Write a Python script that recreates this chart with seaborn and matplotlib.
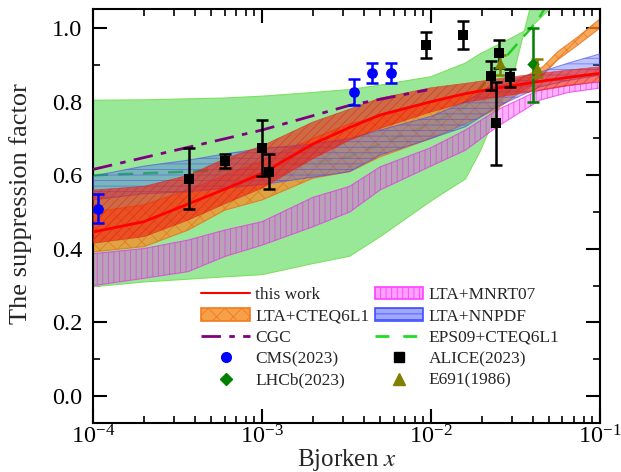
import numpy as np
import matplotlib
matplotlib.use('Agg')
import matplotlib.pyplot as plt
import seaborn as sns
from matplotlib.patches import Patch
from matplotlib.lines import Line2D
from matplotlib.ticker import LogLocator, MultipleLocator, NullFormatter, FormatStrFormatter

# model bands
x_band = [1e-4, 2e-4, 3.65e-4, 6e-4, 1e-3, 2e-3, 3.3e-3, 5e-3, 1e-2, 1.6e-2, 2.45e-2, 4.4e-2, 6.5e-2, 1e-1]
work_mid = [0.446, 0.474, 0.522, 0.562, 0.605, 0.685, 0.73, 0.764, 0.80, 0.822, 0.837, 0.855, 0.866, 0.877]
work_lo = [0.415, 0.433, 0.478, 0.522, 0.565, 0.645, 0.695, 0.727, 0.772, 0.798, 0.812, 0.83, 0.843, 0.855]
work_hi = [0.56, 0.57, 0.60, 0.645, 0.68, 0.745, 0.78, 0.81, 0.838, 0.85, 0.862, 0.877, 0.886, 0.895]

nnpdf_lo = [0.533, 0.55, 0.555, 0.565, 0.575, 0.595, 0.61, 0.655, 0.70, 0.732, 0.786, 0.84, 0.858, 0.872]
nnpdf_hi = [0.598, 0.625, 0.641, 0.658, 0.673, 0.685, 0.70, 0.723, 0.76, 0.80, 0.85, 0.88, 0.905, 0.93]

mnrt_lo = [0.30, 0.32, 0.338, 0.379, 0.41, 0.46, 0.50, 0.56, 0.625, 0.668, 0.731, 0.804, 0.825, 0.837]
mnrt_hi = [0.387, 0.401, 0.424, 0.451, 0.474, 0.54, 0.57, 0.623, 0.675, 0.723, 0.777, 0.832, 0.845, 0.853]

x_cteq = [1e-4, 2e-4, 3.65e-4, 6e-4, 1e-3, 2e-3, 3.3e-3, 5e-3, 1e-2, 1.6e-2, 2.45e-2, 3.5e-2, 4.6e-2, 5.6e-2, 7.4e-2, 1e-1]
cteq_lo = [0.392, 0.406, 0.451, 0.505, 0.533, 0.592, 0.61, 0.65, 0.70, 0.74, 0.78, 0.83, 0.872, 0.913, 0.954, 1.0]
cteq_hi = [0.50, 0.52, 0.56, 0.60, 0.64, 0.70, 0.74, 0.76, 0.80, 0.82, 0.84, 0.865, 0.895, 0.935, 0.976, 1.025]

# EPS09 band edges (each side read at its own x points)
x_eps_hi = [1e-4, 2e-4, 6e-4, 1e-3, 2e-3, 3.3e-3, 5e-3, 1e-2, 1.6e-2, 1.95e-2, 3.05e-2, 3.86e-2, 5.0e-2, 6e-2]
eps_hi = [0.804, 0.805, 0.81, 0.815, 0.825, 0.833, 0.845, 0.868, 0.905, 0.93, 0.975, 1.0, 1.05, 1.08]
x_eps_lo = [1e-4, 2e-4, 6e-4, 1e-3, 2e-3, 3.3e-3, 5e-3, 1e-2, 1.6e-2, 1.95e-2, 2.45e-2, 3.05e-2, 3.84e-2, 4.2e-2]
eps_lo = [0.297, 0.31, 0.324, 0.33, 0.36, 0.38, 0.433, 0.53, 0.59, 0.664, 0.769, 0.867, 1.05, 1.08]
x_eps_mid = [1e-4, 3.65e-4, 1e-3, 2e-3, 3.3e-3, 5e-3, 1e-2, 1.6e-2, 2.84e-2, 4.27e-2, 4.8e-2]
eps_mid = [0.60, 0.61, 0.62, 0.635, 0.65, 0.685, 0.74, 0.786, 0.927, 1.02, 1.06]

x_cgc = [1e-4, 3.65e-4, 1e-3, 3.3e-3, 9.5e-3]
cgc = [0.616, 0.676, 0.723, 0.79, 0.832]

# data points: x, y, low, high
cms_x = [1.07e-4, 3.5e-3, 4.46e-3, 5.8e-3]
cms_y = [0.508, 0.826, 0.877, 0.879]
cms_lo = [0.47, 0.79, 0.85, 0.85]
cms_hi = [0.548, 0.861, 0.906, 0.906]

alice_x = [3.7e-4, 6.0e-4, 1.0e-3, 1.1e-3, 9.4e-3, 1.55e-2, 2.54e-2, 2.26e-2, 2.92e-2, 2.43e-2]
alice_y = [0.590, 0.640, 0.675, 0.610, 0.955, 0.982, 0.931, 0.871, 0.866, 0.743]
alice_lo = [0.508, 0.620, 0.599, 0.562, 0.919, 0.943, 0.892, 0.833, 0.839, 0.628]
alice_hi = [0.675, 0.659, 0.750, 0.658, 0.990, 1.019, 0.967, 0.910, 0.889, 0.854]

lhcb_x = [4.03e-2]
lhcb_y = [0.902]
lhcb_lo = [0.80]
lhcb_hi = [0.999]

e691_x = [2.56e-2, 4.26e-2]
e691_y = [0.904, 0.892]
e691_lo = [0.872, 0.866]
e691_hi = [0.928, 0.915]

sns.set_theme(style='ticks')
plt.rcParams['font.family'] = ['Liberation Serif', 'DejaVu Serif']
plt.rcParams['mathtext.fontset'] = 'stix'
plt.rcParams['hatch.linewidth'] = 0.6

fig = plt.figure(figsize=(6.21, 4.72), dpi=100)
ax = fig.add_axes([0.150, 0.104, 0.816, 0.877])
ax.set_xscale('log')

# EPS09 band + central line
xs = np.concatenate([x_eps_hi, x_eps_lo[::-1]])
ys = np.concatenate([eps_hi, eps_lo[::-1]])
ax.fill(xs, ys, facecolor='#98e898', edgecolor='#7fe060', lw=0.8, zorder=1)
sns.lineplot(x=x_eps_mid, y=eps_mid, ax=ax, color='#22cc22', lw=1.8,
             linestyle=(0, (6, 4)), zorder=1.5)

ax.fill_between(x_band, mnrt_lo, mnrt_hi, facecolor=(1, 0, 1, 0.3),
                edgecolor=(0.9, 0.2, 0.9, 0.7), hatch='|||', lw=0.8, zorder=2)
ax.fill_between(x_cteq, cteq_lo, cteq_hi, facecolor=(0.97, 0.55, 0.15, 0.75),
                edgecolor=(0.9, 0.45, 0.1, 0.8), hatch='xx', lw=0.8, zorder=2.5)
ax.fill_between(x_band, nnpdf_lo, nnpdf_hi, facecolor=(0.25, 0.35, 1, 0.35),
                edgecolor=(0.3, 0.3, 0.9, 0.6), hatch='---', lw=0.8, zorder=3)
ax.fill_between(x_band, work_lo, work_hi, facecolor=(0.95, 0.1, 0.05, 0.6),
                edgecolor=(0.85, 0.15, 0.1, 0.6), hatch='////', lw=0.5, zorder=3.5)

sns.lineplot(x=x_cgc, y=cgc, ax=ax, color='#800080', lw=2,
             linestyle=(0, (7, 3, 2, 3)), zorder=4)
sns.lineplot(x=x_band, y=work_mid, ax=ax, color='red', lw=2, zorder=5)

def points(x, y, lo, hi, color, marker, size):
    x = np.array(x); y = np.array(y)
    err = [y - np.array(lo), np.array(hi) - y]
    ax.errorbar(x, y, yerr=err, fmt='none', ecolor=color, elinewidth=1.8,
                capsize=4.5, capthick=1.8, zorder=6)
    sns.scatterplot(x=x, y=y, ax=ax, color=color, marker=marker, s=size,
                    edgecolor=color, linewidth=0, zorder=7)

points(cms_x, cms_y, cms_lo, cms_hi, 'blue', 'o', 60)
points(alice_x, alice_y, alice_lo, alice_hi, 'black', 's', 55)
points(lhcb_x, lhcb_y, lhcb_lo, lhcb_hi, 'green', 'D', 40)
points(e691_x, e691_y, e691_lo, e691_hi, '#808000', '^', 65)

ax.set_xlim(1e-4, 1e-1)
ax.set_ylim(-0.073, 1.052)
ax.yaxis.set_major_locator(MultipleLocator(0.2))
ax.yaxis.set_minor_locator(MultipleLocator(0.1))
ax.yaxis.set_major_formatter(FormatStrFormatter('%.1f'))
ax.xaxis.set_major_locator(LogLocator(base=10, numticks=10))
ax.xaxis.set_minor_locator(LogLocator(base=10, subs=np.arange(2, 10), numticks=20))
ax.xaxis.set_minor_formatter(NullFormatter())
ax.tick_params(which='both', direction='in', top=True, right=True, colors='black')
ax.tick_params(which='major', length=10, width=1.5, labelsize=17.5)
ax.tick_params(which='minor', length=5, width=1.2)
ax.tick_params(axis='x', which='major', pad=2)
ax.tick_params(axis='y', which='major', pad=8)
for s in ax.spines.values():
    s.set_linewidth(1.5)
    s.set_color('black')

ax.set_xlabel(r'Bjorken $x$', fontsize=18)
ax.xaxis.set_label_coords(0.5, -0.058)
ax.set_ylabel('The suppression factor', fontsize=19)
ax.yaxis.set_label_coords(-0.12, 0.53)

handles = [
    Line2D([], [], color='red', lw=1.5),
    Patch(facecolor='#f7a04a', edgecolor='#f07a20', hatch='xx', lw=1.2),
    Line2D([], [], color='#800080', lw=2, linestyle=(0, (7, 3, 2, 3))),
    Line2D([], [], color='blue', marker='o', ls='none', markersize=7),
    Line2D([], [], color='green', marker='D', ls='none', markersize=6),
    Patch(facecolor='#ffa0ff', edgecolor='#ff40ff', hatch='|||', lw=1.2),
    Patch(facecolor='#a0a8ff', edgecolor='#4050ff', hatch='---', lw=1.2),
    Line2D([], [], color='#22dd22', lw=2, linestyle=(0, (5, 5))),
    Line2D([], [], color='black', marker='s', ls='none', markersize=7),
    Line2D([], [], color='#808000', marker='^', ls='none', markersize=8),
]
labels = ['this work', 'LTA+CTEQ6L1', 'CGC', 'CMS(2023)', 'LHCb(2023)',
          'LTA+MNRT07', 'LTA+NNPDF', 'EPS09+CTEQ6L1', 'ALICE(2023)', 'E691(1986)']
ax.legend(handles, labels, ncol=2, loc='upper left', bbox_to_anchor=(0.2, 0.345),
          frameon=False, fontsize=12.5, handlelength=2.8, handletextpad=0.3,
          labelspacing=0.3, columnspacing=0.3, borderaxespad=0)

fig.savefig('out.png', dpi=100)
